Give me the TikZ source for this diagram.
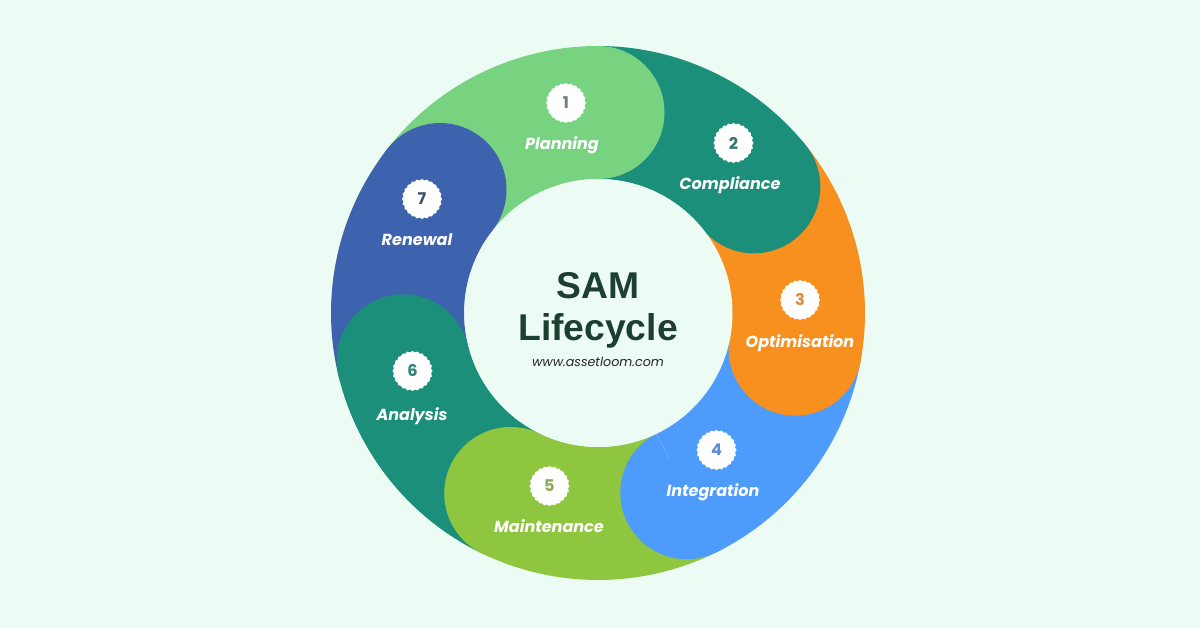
\documentclass[tikz,border=0pt]{standalone}
\usepackage{fontspec}
\usetikzlibrary{shapes.geometric}
\newfontfamily\popfont{Poppins}
\newfontfamily\titlefont{Liberation Sans}
\definecolor{bgmint}{HTML}{ECFBF4}
\definecolor{planc}{HTML}{77D380}
\definecolor{compc}{HTML}{1B8F7A}
\definecolor{optc}{HTML}{F8901F}
\definecolor{intc}{HTML}{4D9BFB}
\definecolor{mainc}{HTML}{8FC63F}
\definecolor{anac}{HTML}{1B8F7A}
\definecolor{renc}{HTML}{3D63AE}
\definecolor{titlec}{HTML}{1C3F30}
\tikzset{
	badge/.style={star,star points=24,star point ratio=1.07,fill=white,inner sep=0pt,minimum size=28.5pt,font=\popfont\bfseries\fontsize{11.5}{12}\selectfont},
	steplabel/.style={text=white,inner sep=0pt,font=\popfont\bfseries\itshape\fontsize{11.4}{12}\selectfont},
	titlelabel/.style={text=titlec,inner sep=0pt,font=\titlefont\bfseries\fontsize{26.5}{27}\selectfont}
}
\begin{document}
\begin{tikzpicture}[x=0.025cm,y=0.025cm]
	\useasboundingbox[fill=bgmint] (-598,-315) rectangle (602,313);
	% ring pieces
	\foreach \from/\to/\col in {142/90/planc,90/39/compc,39/-10.4/optc,-10.4/-63.7/intc,-63.7/-115.8/mainc,-115.8/-166.2/anac,-166.2/-218/renc}{
		\fill[\col] (\from:267) arc[start angle=\from,end angle=\to,radius=267] -- (\to:134) arc[start angle=\to,end angle=\from,radius=134] -- cycle;
	}
	% round heads, each one lies over the next piece
	\foreach \ang/\col in {90/planc,39/compc,-10.4/optc,-63.7/intc,-115.8/mainc,-166.2/anac,142/renc}{
		\fill[\col] (\ang:200.5) circle (66.5);
	}
	\draw[intc!70!white,line width=0.3pt] (58,-120) -- (71,-145);
	\fill[bgmint] (0.5,0) circle (134);
	% badges and names
	\foreach \n/\x/\y/\dig/\lx/\ly/\name in {1/-32/210/6F8079/-36/168/Planning,2/135.5/170/2F7568/132/128/Compliance,3/202/13/E08A35/202/-30/Optimisation,4/118.5/-137/5D8FD0/115/-179/Integration,5/-48.5/-173/8FAA55/-49/-213/Maintenance,6/-185.5/-58/2F8574/-186/-103/Analysis,7/-176/114/3F5070/-181/73/Renewal}{
		\definecolor{digc}{HTML}{\dig}
		\node[badge,text=digc] (badge\n) at (\x,\y) {\n};
		\node[steplabel] (label\n) at (\lx,\ly) {\name};
	}
	\node[titlelabel] (title1) at (0,27) {SAM};
	\node[titlelabel] (title2) at (0,-18) {Lifecycle};
	\node[text=black!85,font=\popfont\itshape\fontsize{9}{10}\selectfont,inner sep=0pt] (site) at (0,-49) {www.assetloom.com};
\end{tikzpicture}
\end{document}
